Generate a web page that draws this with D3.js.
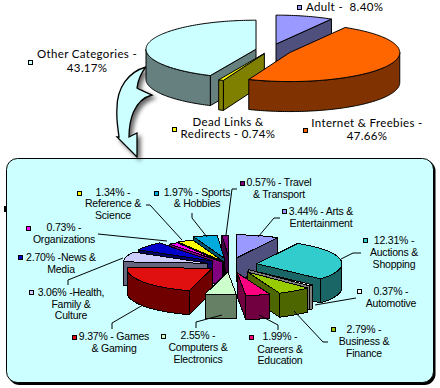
<!DOCTYPE html>
<html><head><meta charset="utf-8">
<script src="https://cdn.jsdelivr.net/npm/d3@7"></script>
<style>html,body{margin:0;padding:0;background:#fff}svg{display:block}</style>
</head><body><svg id="c" width="440" height="388"></svg>
<script>
// ---------- data ----------
const topNames   = ["Adult","Internet & Freebies","Dead Links & Redirects","Other Categories"];
const topValues  = [8.40,47.66,0.74,43.17];
const topFill    = ["#9999ff","#ff6600","#ffff00","#ccffff"];
const topSide    = ["#50507f","#803300","#808000","#668080"];
const topExplode = [0.21,0.20,0.13,0.13];
const topOrder   = [0,3,2,1];

const subNames   = ["Arts & Entertainment","Auctions & Shopping","Automotive","Business & Finance","Careers & Education","Computers & Electronics","Games & Gaming","Health, Family & Culture","News & Media","Organizations","Reference & Science","Sports & Hobbies","Travel & Transport"];
const subValues  = [3.44,12.31,0.37,2.79,1.99,2.55,9.37,3.06,2.70,0.73,1.34,1.97,0.57];
const subFill    = ["#9999ff","#33cccc","#ffffff","#99cc00","#ff0080","#ccffcc","#e01010","#ccccff","#0000cc","#ff00ff","#ffff00","#00aadd","#800080"];
const subSide    = ["#50507f","#1a6666","#808080","#4d6600","#700040","#668066","#700000","#666680","#000066","#800080","#808000","#00556e","#400040"];
const subExplode = [0.32,0.32,0.30,0.36,0.35,0.30,0.26,0.27,0.27,0.15,0.17,0.30,0.30];

// label text: lines, anchor, x, baselines, swatch
const topLabels = [
 {lines:["Adult -  8.40%"],x:306,y:[11],a:"start",sq:[297,5],c:0},
 {lines:["Dead Links &","Redirects - 0.74%"],x:228,y:[126,138],a:"middle",sq:[172,127],c:2},
 {lines:["Internet & Freebies -","47.66%"],x:367,y:[127,140],a:"middle",sq:[303,128],c:1},
 {lines:["Other Categories -","43.17%"],x:87,y:[58,72],a:"middle",sq:[28,60],c:3}
];
const subLabels = [
 {lines:["1.34% -","Reference &","Science"],x:113,y:[196,207,219],a:"middle",sq:[77,191],c:10},
 {lines:["1.97% - Sports","& Hobbies"],x:197,y:[196,207],a:"middle",sq:[154,191],c:11},
 {lines:["0.73% -","Organizations"],x:64,y:[231,243],a:"middle",sq:[26,226],c:9},
 {lines:["2.70% -News &","Media"],x:61,y:[261,273],a:"middle",sq:[18,255],c:8},
 {lines:["3.06% -Health,","Family &","Culture"],x:71,y:[296,308,319],a:"middle",sq:[29,290],c:7},
 {lines:["9.37% - Games","& Gaming"],x:114,y:[340,352],a:"middle",sq:[72,335],c:6},
 {lines:["2.55% -","Computers &","Electronics"],x:198,y:[339,351,363],a:"middle",sq:[161,334],c:5},
 {lines:["1.99% -","Careers &","Education"],x:280,y:[340,353,364],a:"middle",sq:[249,335],c:4},
 {lines:["2.79% -","Business &","Finance"],x:364,y:[333,345,357],a:"middle",sq:[331,327],c:3},
 {lines:["0.37% -","Automotive"],x:391,y:[295,307],a:"middle",sq:[357,289],c:2},
 {lines:["12.31% -","Auctions &","Shopping"],x:394,y:[244,256,268],a:"middle",sq:[363,238],c:1},
 {lines:["3.44% - Arts &","Entertainment"],x:321,y:[215,227],a:"middle",sq:[282,209],c:0},
 {lines:["0.57% - Travel","& Transport"],x:279,y:[186,198],a:"middle",sq:[240,181],c:12}
];
const leaders = [
 [[146,205],[150,205],[182,240]],
 [[192,213],[192,218],[207,237]],
 [[98,234],[167,241]],
 [[68,285],[68,280],[123,258]],
 [[112,329],[112,323],[143,305]],
 [[196,328],[196,322],[222,315]],
 [[278,330],[278,325],[259,315]],
 [[328,342],[323,342],[294,311]],
 [[356,298],[315,305]],
 [[361,253],[353,253],[341,259]],
 [[280,218],[274,218],[258,237]],
 [[237,189],[232,189],[226,235]]
];

// ---------- drawing ----------
const svg = d3.select("#c");
const defs = svg.append("defs");
const f = defs.append("filter").attr("id","sh").attr("x","-30%").attr("y","-30%").attr("width","170%").attr("height","170%");
f.append("feDropShadow").attr("dx",3).attr("dy",3).attr("stdDeviation",2).attr("flood-color","#000").attr("flood-opacity",.6);

const lineGen = d3.line();

function draw3dPie(g, values, fills, sides, explode, geo, order){
  const arcs = d3.pie().sort(null).value(d=>d)(values);
  const xS = d3.scaleLinear().domain([-1,1]).range([geo.cx-geo.rx,geo.cx+geo.rx]);
  const yS = d3.scaleLinear().domain([-1,1]).range([geo.cy+geo.ry,geo.cy-geo.ry]);
  const pt = (a,r,ox,oy,dz)=>[xS(r*Math.sin(a)+ox), yS(r*Math.cos(a)+oy)+dz];
  const seq = order || d3.range(values.length).sort((p,q)=>{
     const m = i=>(arcs[i].startAngle+arcs[i].endAngle)/2;
     return Math.cos(m(q))-Math.cos(m(p));
  });
  seq.forEach(i=>{
    const s=arcs[i].startAngle, e=arcs[i].endAngle, mid=(s+e)/2;
    const ox=explode[i]*Math.sin(mid), oy=explode[i]*Math.cos(mid);
    const P=(a,r,dz=0)=>pt(a,r,ox,oy,dz);
    const face=(pts,col)=>g.append("path").attr("d",lineGen(pts)+"Z").attr("fill",col)
        .attr("stroke","#000").attr("stroke-width",geo.sw).attr("stroke-linejoin","round").attr("shape-rendering",geo.crisp?"crispEdges":"auto");
    const cut=a=>face([P(a,0),P(a,1),P(a,1,geo.depth),P(a,0,geo.depth)],sides[i]);
    if(Math.sin(s)<0) cut(s);
    if(Math.sin(e)>0) cut(e);
    const lo=Math.max(s,Math.PI/2), hi=Math.min(e,3*Math.PI/2);
    if(lo<hi){
      const as=d3.range(lo,hi,0.02).concat([hi]);
      face(as.map(a=>P(a,1)).concat(as.slice().reverse().map(a=>P(a,1,geo.depth))),sides[i]);
    }
    const as=d3.range(s,e,0.02).concat([e]);
    face([P(s,0)].concat(as.map(a=>P(a,1))),fills[i]);
  });
}

function labels(g, list, fills, font, size, spacing, sqSize){
  list.forEach(l=>{
    g.append("rect").attr("x",l.sq[0]+.5).attr("y",l.sq[1]+.5).attr("width",sqSize).attr("height",sqSize)
      .attr("fill",fills[l.c]).attr("stroke","#000").attr("stroke-width",1);
    l.lines.forEach((t,i)=>{
      g.append("text").attr("x",l.x).attr("y",l.y[i]).attr("text-anchor",l.a)
       .attr("font-family",font).attr("font-size",size).attr("letter-spacing",spacing)
       .attr("fill","#000").style("white-space","pre").text(t);
    });
  });
}

// panel
svg.append("rect").attr("x",8.5).attr("y",160).attr("width",427).attr("height",225).attr("rx",11).attr("fill","#000");
svg.append("rect").attr("x",6.5).attr("y",158.5).attr("width",427).attr("height",224).attr("rx",11)
   .attr("fill","#ccffff").attr("stroke","#000").attr("stroke-width",1);
svg.append("rect").attr("x",4).attr("y",206).attr("width",3).attr("height",6).attr("fill","#000");

// arrow
svg.append("path")
 .attr("d","M146,67 C128,72 117,88 117,108 C116,118 118,128 119,137 L117,137 L137,157 L137,133 L129,137 C129,122 133,100 152,95 C146,92 140,90 137,88 C138,80 141,73 146,67Z")
 .attr("fill","#ccffff").attr("stroke","#000").attr("stroke-width",1.3).attr("filter","url(#sh)");

// pies
draw3dPie(svg.append("g"),topValues,topFill,topSide,topExplode,{cx:270,cy:50,rx:110,ry:29,depth:30,sw:1,crisp:false},topOrder);
draw3dPie(svg.append("g"),subValues,subFill,subSide,subExplode,{cx:230,cy:265,rx:85,ry:23,depth:24,sw:1,crisp:true});

// leaders
svg.append("g").selectAll("path").data(leaders).join("path")
  .attr("d",d=>lineGen(d)).attr("fill","none").attr("stroke","#000").attr("stroke-width",1);

labels(svg.append("g"),topLabels,topFill,"Lato, sans-serif",11.5,0.35,4);
labels(svg.append("g"),subLabels,subFill,"'Liberation Sans', Arial, sans-serif",10.5,-0.2,4);
</script></body></html>
